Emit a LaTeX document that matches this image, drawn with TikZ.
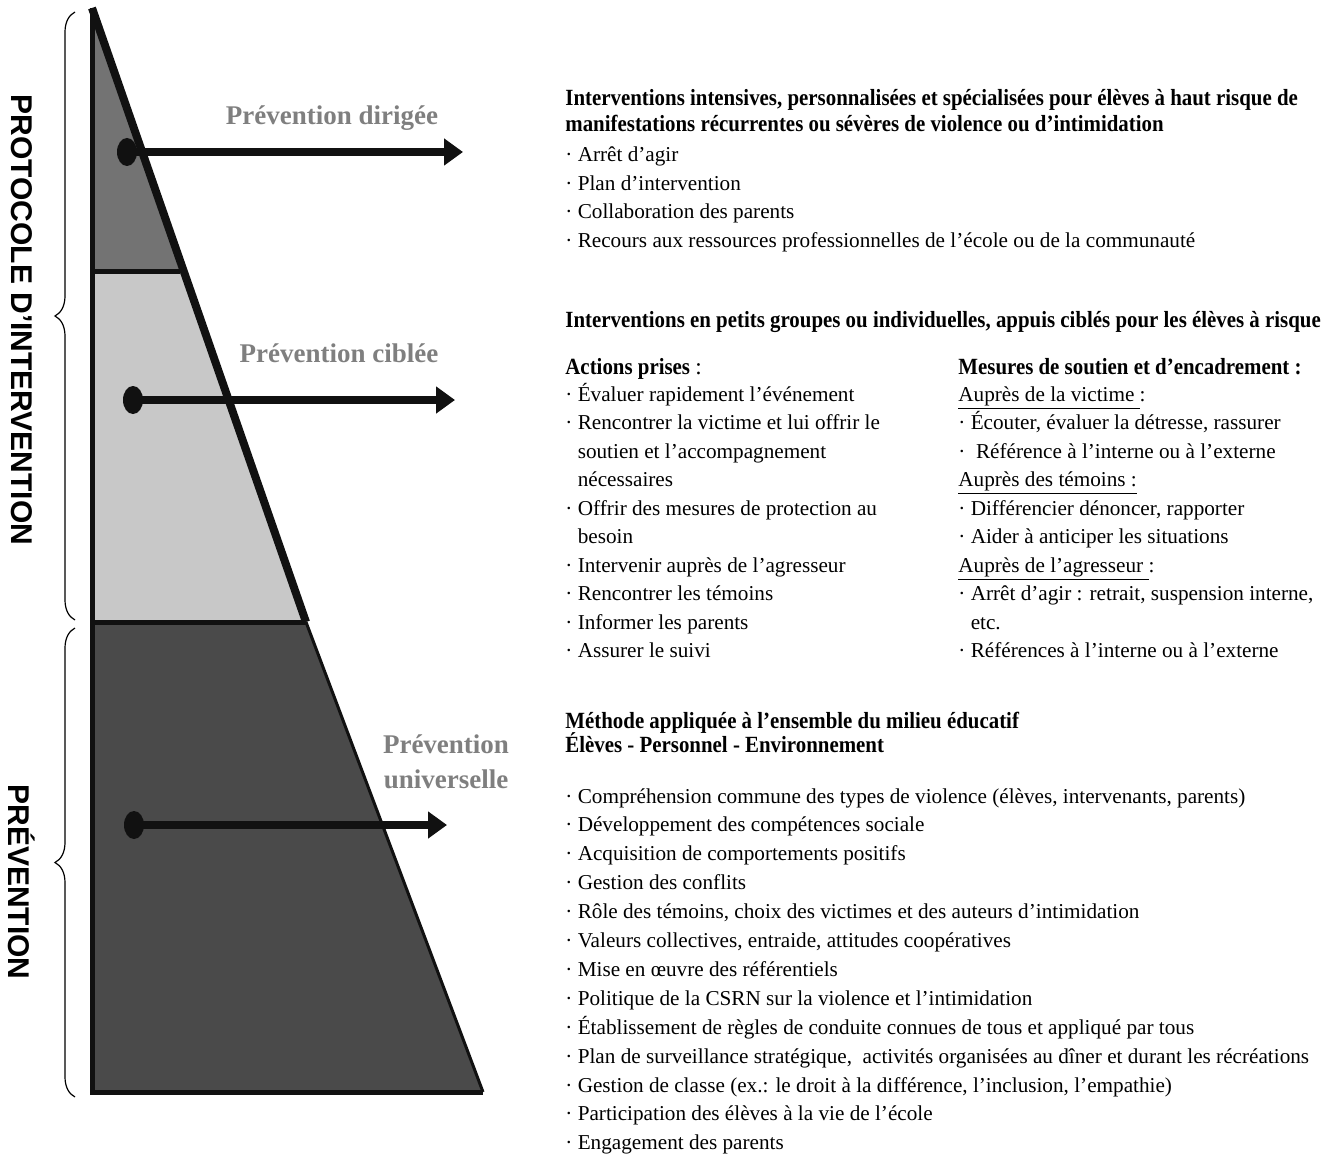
\documentclass[tikz,border=0pt]{standalone}
\usepackage{fontspec}
\setmainfont{Liberation Serif}
\newfontfamily\headfont[FakeStretch=0.9]{Liberation Serif}
\newfontfamily\sidefont{Liberation Sans}
\usetikzlibrary{arrows.meta,shapes.geometric,decorations.pathreplacing}

\definecolor{ink}{HTML}{111111}
\definecolor{topgray}{HTML}{737373}
\definecolor{midgray}{HTML}{C8C8C8}
\definecolor{lowgray}{HTML}{4A4A4A}
\definecolor{lvlgray}{HTML}{7F7F7F}

\tikzset{
	level/.style={font=\bfseries\fontsize{13.5}{17.5}\selectfont,text=lvlgray,inner sep=0pt},
	head/.style={font=\headfont\bfseries\fontsize{11.6}{14}\selectfont,anchor=base west,inner sep=0pt},
	item/.style={font=\fontsize{10.6}{14}\selectfont,anchor=base west,inner sep=0pt},
	side/.style={font=\sidefont\bfseries\fontsize{15}{18}\selectfont,rotate=-90,inner sep=0pt},
	dot/.style={ellipse,fill=ink,inner sep=0pt,minimum width=10pt,minimum height=14pt},
	pointer/.style={draw=ink,line width=4pt,-{Triangle[length=9.5pt,width=13pt]}},
	curly/.style={decorate,decoration={brace,amplitude=10pt},line width=0.6pt}
}

\begin{document}
\begin{tikzpicture}[x=0.5pt,y=-0.5pt]
	\useasboundingbox (0,0) rectangle (1331,1160);

	%pyramid corners
	\coordinate (apex) at (92,8);
	\coordinate (l1) at (92,272);
	\coordinate (r1) at (180,272);
	\coordinate (l2) at (92,622);
	\coordinate (r2) at (306,622);
	\coordinate (bl) at (92,1092);
	\coordinate (br) at (483,1092);

	%pyramid fills
	\fill[topgray] (apex) -- (r1) -- (l1) -- cycle; %dirigee
	\fill[midgray] (l1) -- (r1) -- (r2) -- (l2) -- cycle; %ciblee
	\fill[lowgray] (l2) -- (r2) -- (br) -- (bl) -- cycle; %universelle

	%pyramid outline
	\draw[ink,line width=1.5pt] (r2) -- (br);
	\draw[ink,line width=2.5pt] (apex) -- (bl) -- (br);
	\draw[ink,line width=2.5pt] (l1) -- (r1);
	\draw[ink,line width=2.5pt] (l2) -- (r2);
	\draw[ink,line width=4pt] (apex) -- (r2);

	%braces
	\draw[curly] (75,620) -- (75,12); %protocole
	\draw[curly] (75,1097) -- (75,628); %prevention
	\node[side] (protocole) at (22,320) {PROTOCOLE D’INTERVENTION};
	\node[side] (prevention) at (22,882) {PRÉVENTION};

	%levels
	\node[level,anchor=base] (dirigee) at (332,125) {Prévention dirigée};
	\node[level,anchor=base] (ciblee) at (339,362) {Prévention ciblée};
	\node[level,anchor=south,align=center] (universelle) at (446,789) {Prévention\\universelle};

	%arrows
	\node[dot] (d1) at (127,152) {};
	\coordinate (t1) at (463,152);
	\draw[pointer] (d1.center) -- (t1);
	\node[dot] (d2) at (133,400) {};
	\coordinate (t2) at (455,400);
	\draw[pointer] (d2.center) -- (t2);
	\node[dot] (d3) at (134,825) {};
	\coordinate (t3) at (447,825);
	\draw[pointer] (d3.center) -- (t3);

	%prevention dirigee text
	\node[head] (h1a) at (565,106) {Interventions intensives, personnalisées et spécialisées pour élèves à haut risque de};
	\node[head] (h1b) at (565,132) {manifestations récurrentes ou sévères de violence ou d’intimidation};
	\foreach \txt [count=\i] in {Arrêt d’agir, Plan d’intervention, Collaboration des parents,
		Recours aux ressources professionnelles de l’école ou de la communauté}
		\node[item] (a\i) at (565,{162+28.4*(\i-1)}) {· \txt};

	%prevention ciblee text
	\node[head] (h2) at (565,328) {Interventions en petits groupes ou individuelles, appuis ciblés pour les élèves à risque};
	\node[head] (actions) at (565,374) {Actions prises \normalfont:};
	\node[head] (mesures) at (958,374) {Mesures de soutien et d’encadrement :};
	\foreach \txt [count=\i] in {{· Évaluer rapidement l’événement},
		{· Rencontrer la victime et lui offrir le},
		{\phantom{· }soutien et l’accompagnement},
		{\phantom{· }nécessaires},
		{· Offrir des mesures de protection au},
		{\phantom{· }besoin},
		{· Intervenir auprès de l’agresseur},
		{· Rencontrer les témoins},
		{· Informer les parents},
		{· Assurer le suivi}}
		\node[item] (b\i) at (565,{401+28.5*(\i-1)}) {\txt};
	\foreach \txt [count=\i] in {{\underline{Auprès de la victime\ }:},
		{· Écouter, évaluer la détresse, rassurer},
		{·\ \ Référence à l’interne ou à l’externe},
		{\underline{Auprès des témoins :}},
		{· Différencier dénoncer, rapporter},
		{· Aider à anticiper les situations},
		{\underline{Auprès de l’agresseur\ }:},
		{· Arrêt d’agir : retrait, suspension interne,},
		{\phantom{· }etc.},
		{· Références à l’interne ou à l’externe}}
		\node[item] (c\i) at (958,{401+28.5*(\i-1)}) {\txt};

	%prevention universelle text
	\node[head] (h3a) at (565,728) {Méthode appliquée à l’ensemble du milieu éducatif};
	\node[head] (h3b) at (565,752) {Élèves - Personnel - Environnement};
	\foreach \txt [count=\i] in {{Compréhension commune des types de violence (élèves, intervenants, parents)},
		Développement des compétences sociale,
		Acquisition de comportements positifs,
		Gestion des conflits,
		{Rôle des témoins, choix des victimes et des auteurs d’intimidation},
		{Valeurs collectives, entraide, attitudes coopératives},
		Mise en œuvre des référentiels,
		Politique de la CSRN sur la violence et l’intimidation,
		Établissement de règles de conduite connues de tous et appliqué par tous,
		{Plan de surveillance stratégique,\ \ activités organisées au dîner et durant les récréations},
		{Gestion de classe (ex.: le droit à la différence, l’inclusion, l’empathie)},
		Participation des élèves à la vie de l’école,
		Engagement des parents}
		\node[item] (u\i) at (565,{803+28.9*(\i-1)}) {· \txt};
\end{tikzpicture}
\end{document}
